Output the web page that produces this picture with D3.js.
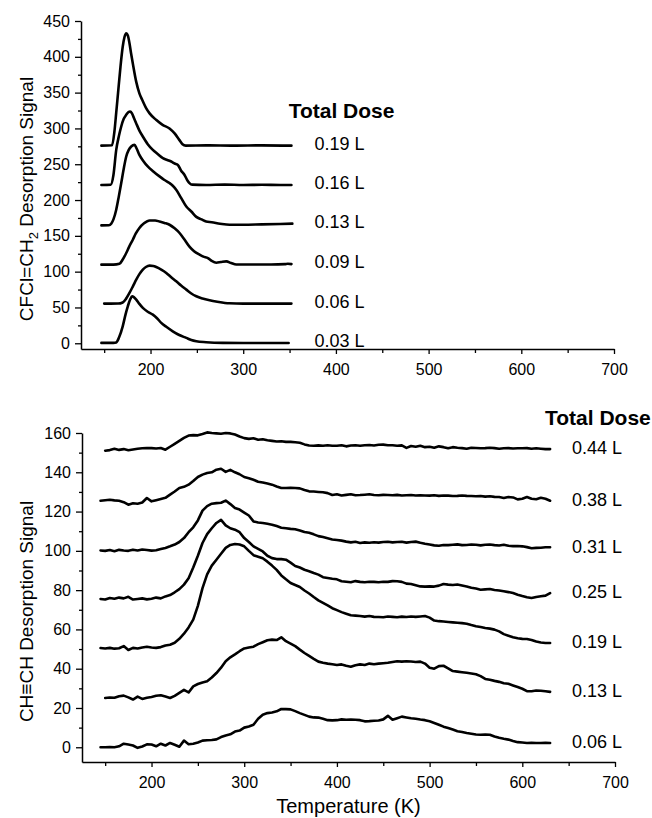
<!DOCTYPE html>
<html>
<head>
<meta charset="utf-8">
<script src="https://cdn.jsdelivr.net/npm/d3@7"></script>
<style>
  html, body { margin: 0; padding: 0; background: #fff; }
  svg { display: block; font-family: Arial, "Liberation Sans", Helvetica, sans-serif; }
</style>
</head>
<body>
<svg id="chart" width="652" height="818"></svg>
<script>
// ---------- Upper panel: CFCl=CH2 desorption traces, [temperature (K), signal] ----------
const cfclDoses = ["0.19 L", "0.16 L", "0.13 L", "0.09 L", "0.06 L", "0.03 L"];

const cfcl019 = [[147,276],[158.5,276.5],[161,295],[163,322],[165,350],[167.5,385],[170,414],[172,428],
  [173.8,433],[175.5,430],[177.3,419],[179,405],[181,390],[184.6,365],[188,349],[191,340],[195.4,328],
  [199,321],[206,312],[213,305],[220.5,300],[226,293],[231,284],[234.5,278],[238,276],[260,276.3],
  [290,276],[320,276.4],[352,276]];
const cfcl016 = [[147,221],[157,221.3],[160,235],[163,270],[166,290],[168.4,302.7],[171,313],[173.8,319],
  [176,322.5],[178,323.6],[180,321],[182,315],[184.6,307],[188,297],[191.7,288.7],[197,278],[202.5,270],
  [208,264],[213.3,258.5],[218,256],[222.3,253.8],[226,251],[229.5,249],[233,241],[236.7,235],[240,227],
  [242,223.7],[245,221.5],[260,221],[280,221.5],[300,221],[320,221.3],[340,221],[352,221]];
const cfcl013 = [[147,164.6],[155,164.8],[157.6,167],[160,173],[163,186.5],[165.5,203],[168.4,223.7],
  [171,243],[173.8,260.8],[176.5,270],[179.2,274.8],[182.7,277],[185,272],[188,263],[192,255],[197,246.9],
  [203,240],[209.7,233],[215,228],[220.5,223.7],[224,220],[227.7,214.4],[233,203],[238.6,191],[244,184],
  [249.4,176.5],[255,173],[260,170],[266,169],[275,167],[285.3,165.5],[300,165.5],[320,166],[340,166.5],[353,167]];
const cfcl009 = [[147,109.8],[160,109.8],[166.5,111],[170,117],[173.8,126],[177,135],[180.9,144.6],[184,153],
  [188,161],[193,167.5],[199,171.5],[205,171.5],[209.7,170],[215,168],[220.5,165.5],[226,160.5],[231.3,154],
  [236,146],[242,135],[247,128.5],[252.9,123.7],[257,121],[261.9,119],[266,115],[271,112.5],[276,113.5],
  [281.8,114.4],[287,112],[292.5,110],[310,110],[330,110],[345,110.5],[348,111],[352,110.5]];
const cfcl006 = [[150,55.4],[165,55.5],[170,57],[173.5,62],[177.3,70.3],[181,79.5],[184.6,88.8],[188,96.5],
  [191.7,102.8],[195,106.5],[199,108.4],[203,108],[206.2,106.5],[212,102.5],[217,98.2],[222,92.5],
  [227.7,86.5],[233,80.5],[238.6,74.9],[244,69.5],[249.4,65.6],[256,62.5],[263.7,60],[272,58],[285,55.8],
  [300,55.4],[330,55.4],[352,55.4]];
const cfcl003 = [[147,0.5],[160,0.6],[163,1.2],[166,8],[170,23.7],[173,40],[175.5,51.6],[178,61],[180.2,65.6],
  [182,64.5],[184.6,61],[188,55],[191.7,49.4],[197,44],[202.5,40],[207,35],[211.6,28.4],[217,23],[224,16.7],
  [231,11.5],[238.6,7.5],[244,4.5],[249.4,2.8],[260,1.5],[278,0.5],[300,0.3],[330,0.3],[349,0.3]];

const cfclTraces = [cfcl019, cfcl016, cfcl013, cfcl009, cfcl006, cfcl003];
const cfclYMajor = [0, 50, 100, 150, 200, 250, 300, 350, 400, 450];
const cfclYMinor = [25, 75, 125, 175, 225, 275, 325, 375, 425];

// ---------- Lower panel: CH≡CH desorption traces, sampled every 5 K ----------
const chchDoses = ["0.44 L", "0.38 L", "0.31 L", "0.25 L", "0.19 L", "0.13 L", "0.06 L"];
const chchStartK = [150, 145, 145, 145, 145, 150, 145];
const chchStepK = 5;

const chch044 = [
  151, 151.3, 152, 151.4, 151.8, 151.2, 151.6, 152, 152.2, 152.4,
  152.3, 152.1, 152.4, 151.5, 153, 154.5, 156, 157.5, 158.7, 158.9,
  158.8, 159.5, 160.3, 160, 159.8, 159.6, 160, 159.8, 159.2, 158.2,
  157.4, 157, 157.3, 156.6, 156.8, 156.3, 156, 155.7, 155.8, 155.5,
  155.5, 155.3, 155, 154.2, 153.6, 153.5, 153.7, 153.5, 153.8, 153.5,
  153.5, 153.8, 153.2, 153.6, 153.8, 153.5, 153.8, 153.9, 153.6, 154,
  154.1, 153.8, 153.8, 153.5, 153.7, 152.4, 153.4, 153, 153.5, 152.8,
  153, 152.5, 153.2, 152.8, 152.2, 152.8, 152.5, 152.3, 152, 152.5,
  152.4, 152.2, 152.3, 152.5, 152.3, 152, 152.2, 152.3, 152.1, 152.2,
  152.2, 152.3, 152, 152.2, 152, 151.8, 151.8];
const chch038 = [
  125.5, 125.8, 126, 125.7, 125.5, 124.8, 123.5, 124.2, 124, 124.6,
  126.9, 125.2, 125.8, 126.4, 127, 128.6, 130.2, 132, 132.6, 133.7,
  135.6, 137.6, 138.8, 139.6, 140, 141.3, 141.8, 140.2, 141.2, 140,
  139, 137.6, 137, 136.2, 135.2, 134.8, 134.3, 133.7, 132.8, 132,
  132, 132.1, 132, 131.8, 131, 130.3, 130.2, 130, 129.8, 129.4,
  128.4, 128.8, 128.2, 128.5, 128.8, 128.3, 128.4, 128.6, 128.8, 128.4,
  128.3, 128.5, 128.4, 128.3, 128.5, 128.2, 128.3, 128.4, 128.2, 128.3,
  128.2, 128.1, 128.3, 128, 128.2, 128.1, 127.9, 128, 128.2, 128,
  127.9, 127.8, 127.9, 127.6, 127.8, 127.5, 127.4, 126.9, 127.4, 127.2,
  126.2, 126.5, 127.4, 126.5, 126.3, 127, 126.5, 125.5];
const chch031 = [
  100.2, 100, 100.4, 99.8, 100.5, 100.2, 100, 100.6, 100.2, 100.7,
  100.4, 100.1, 100.3, 100.9, 101.5, 102.3, 103.2, 104.5, 106.5, 109.5,
  112, 115.5, 120.5, 122.8, 124, 124.3, 124.5, 125.6, 123.8, 121.8,
  121, 119.5, 118, 115, 114.4, 114.2, 113.8, 113.3, 112.6, 111.8,
  111.5, 111.2, 111, 110.4, 109.6, 109.2, 108.4, 107.5, 107, 106.4,
  105.8, 105.5, 105.2, 104.7, 104.3, 104.6, 104, 104.3, 104.1, 104.4,
  104.2, 104.5, 104.6, 104.3, 104.5, 104.6, 104.2, 104.5, 104.7, 104.1,
  103.6, 103.2, 102.8, 102.6, 103, 102.9, 103.1, 103.3, 102.9, 103,
  103.2, 103.1, 102.8, 103.1, 103.2, 102.9, 102.7, 103.1, 102.6, 102.4,
  102.5, 102.3, 101.9, 101.3, 101.5, 101.6, 101.8, 101.8];
const chch025 = [
  75.5, 75.2, 76, 75.6, 76.2, 75.8, 76.6, 75.2, 75.5, 75.8,
  75.3, 75.6, 76.2, 75.8, 76.8, 77.5, 78.9, 80.5, 82.8, 86,
  91.5, 97.5, 104, 108.5, 111.5, 114.2, 115.8, 113, 111.5, 110.8,
  109.5, 106.5, 104.5, 102.3, 101, 99.7, 97.5, 96.3, 95.8, 95.8,
  95.5, 94, 92.3, 91.5, 90.4, 89.6, 88.7, 87.9, 86.6, 86.2,
  85.8, 85.5, 84.5, 84.3, 84, 84.6, 84.2, 84, 84.3, 84.2,
  84, 84.3, 84.2, 84.6, 84.5, 84.2, 83.3, 83.1, 82.5, 81.9,
  81.8, 81.9, 81.8, 82.3, 83.1, 82.8, 82.6, 82.9, 82.4, 81.9,
  81.2, 80.8, 80.2, 80.4, 80.6, 80.1, 79.8, 79.4, 79, 78.5,
  77.7, 77, 76.4, 76, 76.5, 76.9, 77.2, 78.5];
const chch019 = [
  50.5, 50.3, 50.6, 50.2, 50.4, 51.5, 49.5, 50.6, 50.3, 50.8,
  51.2, 50.8, 50.6, 51, 51.8, 52.2, 53.2, 55.2, 57.8, 61,
  65, 72, 81, 88, 92.5, 95.5, 98.5, 101.5, 103, 103.5,
  103.2, 102.3, 100, 97.8, 97, 96.2, 94.5, 92.5, 90.3, 87.5,
  85.5, 83.6, 82.6, 81.6, 79.8, 78.3, 76.5, 74.8, 73.5, 72.2,
  70.8, 69.8, 68.8, 68, 67.2, 67, 66.8, 66.5, 66.8, 66.4,
  66.3, 66.2, 66.6, 66.4, 66.2, 66.5, 66.3, 66.6, 66.4, 66.6,
  66.8, 66, 64.5, 64.2, 64, 63.8, 63.6, 63.4, 63.2, 62.9,
  62.2, 61.6, 61.2, 60.7, 60.4, 59.9, 59, 57.6, 56.8, 56,
  55.5, 55.2, 55.1, 54.6, 53.8, 53.3, 53.1, 53.1];
const chch013 = [
  25.1, 25.3, 25.2, 26, 26.3, 25.4, 24.3, 25.8, 24.6, 25.2,
  25.6, 26.2, 26.5, 25.8, 25.1, 26.2, 27.7, 29.2, 27.9, 31,
  32.2, 33, 33.6, 35.5, 37.8, 40.5, 43.8, 45.8, 47.3, 48.9,
  50.3, 50.8, 51.2, 52.5, 53.5, 54.5, 54.8, 54.6, 56, 54,
  52.8, 51.5, 49.7, 48, 46.5, 45, 43.6, 43, 42.6, 42.3,
  41.9, 42.2, 41.5, 41, 41.8, 42.2, 41.9, 42.6, 42.3, 42.6,
  42.8, 43, 43.4, 43.8, 43.6, 43.8, 43.7, 43.4, 43.6, 42.6,
  40.5, 40, 41.3, 41.5, 40.2, 38.8, 38.5, 38.2, 37.9, 37.6,
  37.2, 36.2, 34.8, 34.4, 33.8, 33.3, 32.6, 32.3, 31.5, 30.7,
  29.8, 28.6, 28.5, 28.9, 28.8, 28.5, 28.2];
const chch006 = [
  0, 0, 0.1, 0, 0.5, 1.8, 1.4, 0.9, -0.3, 0.4,
  1.5, 1.4, 0.5, 1.8, 0.9, 2.2, 1.3, 0.3, 3.4, 1.5,
  1.8, 2.4, 3.4, 3.6, 3.7, 4, 5.2, 6, 6.6, 8,
  8.5, 10, 10.6, 11.5, 14.5, 16.6, 17.4, 17.7, 18.3, 19.5,
  19.4, 19.3, 18.4, 17.4, 16.5, 15.6, 15.2, 15.1, 14.5, 13.8,
  13.7, 13.8, 14.2, 14, 14.1, 14, 13.8, 13.2, 13.3, 13.5,
  13.6, 14.2, 16, 14, 14.8, 15.6, 15.2, 14.8, 14.5, 14.1,
  13.8, 13.2, 12.4, 11.5, 10.5, 9.8, 9, 8.2, 7.8, 7.3,
  6.9, 6.5, 6.4, 6.5, 6.4, 5.5, 4.8, 4.3, 3.9, 3.2,
  2.6, 2.4, 2.2, 2.3, 2.2, 2.2, 2.3, 2.2];

const chchTraces = [chch044, chch038, chch031, chch025, chch019, chch013, chch006];
const chchYMajor = [0, 20, 40, 60, 80, 100, 120, 140, 160];
const chchYMinor = [10, 30, 50, 70, 90, 110, 130, 150];

// Shared temperature axis
const tempMajor = [200, 300, 400, 500, 600, 700];
const tempMinor = [150, 250, 350, 450, 550, 650];
const tempDomain = [125, 700];

// ---------- drawing ----------
const svg = d3.select("#chart");
svg.append("rect").attr("width", 652).attr("height", 818).attr("fill", "#fff");

function drawAxes(g, x, y, yMajor, yMinor) {
  const xAxis = g.append("g").attr("transform", `translate(0,${y.range()[0]})`)
    .call(d3.axisBottom(x).tickValues(tempMajor).tickSize(5).tickSizeOuter(0)
      .tickPadding(10).tickFormat(d3.format("d")));
  g.append("g").attr("transform", `translate(0,${y.range()[0]})`)
    .call(d3.axisBottom(x).tickValues(tempMinor).tickSize(4).tickFormat(""))
    .call(s => s.select(".domain").remove());

  const yAxis = g.append("g").attr("transform", `translate(${x.range()[0]},0)`)
    .call(d3.axisLeft(y).tickValues(yMajor).tickSize(6).tickSizeOuter(0)
      .tickPadding(5).tickFormat(d3.format("d")));
  g.append("g").attr("transform", `translate(${x.range()[0]},0)`)
    .call(d3.axisLeft(y).tickValues(yMinor).tickSize(3).tickFormat(""))
    .call(s => s.select(".domain").remove());

  g.selectAll(".domain").attr("stroke", "#000").attr("stroke-width", 1.5);
  g.selectAll(".tick line").attr("stroke", "#000").attr("stroke-width", 1.3);
  g.selectAll(".tick text").attr("font-size", 16).attr("fill", "#000")
    .attr("font-family", "Arial, 'Liberation Sans', sans-serif");
}

// Upper panel
const xTop = d3.scaleLinear().domain(tempDomain).range([81, 614]);
const yTop = d3.scaleLinear().domain([-8, 450]).range([349, 21]);
const gTop = svg.append("g");
drawAxes(gTop, xTop, yTop, cfclYMajor, cfclYMinor);

const lineTop = d3.line().x(d => xTop(d[0])).y(d => yTop(d[1])).curve(d3.curveMonotoneX);
gTop.selectAll("path.trace").data(cfclTraces).join("path")
  .attr("class", "trace")
  .attr("d", lineTop)
  .attr("fill", "none").attr("stroke", "#000").attr("stroke-width", 2.6)
  .attr("stroke-linejoin", "round").attr("stroke-linecap", "round");

gTop.selectAll("text.dose").data(cfclTraces).join("text")
  .attr("class", "dose")
  .attr("x", xTop(377))
  .attr("y", d => yTop(d[d.length - 1][1]) - 2)
  .attr("dy", "0.35em")
  .attr("font-size", 18).attr("fill", "#000")
  .text((d, i) => cfclDoses[i]);

gTop.append("text")
  .attr("x", xTop(349)).attr("y", yTop(314))
  .attr("font-size", 21).attr("font-weight", "bold").attr("fill", "#000")
  .text("Total Dose");

const titleTop = svg.append("text")
  .attr("transform", "translate(33,199) rotate(-90)")
  .attr("text-anchor", "middle").attr("font-size", 19).attr("fill", "#000");
titleTop.append("tspan").text("CFCl=CH");
titleTop.append("tspan").attr("font-size", 13).attr("dy", 5).text("2");
titleTop.append("tspan").attr("dy", -5).text(" Desorption Signal");

// Lower panel
const xBot = d3.scaleLinear().domain(tempDomain).range([82, 615]);
const yBot = d3.scaleLinear().domain([-7.5, 160]).range([762, 433]);
const gBot = svg.append("g");
drawAxes(gBot, xBot, yBot, chchYMajor, chchYMinor);

const lineBot = d3.line()
  .x(d => xBot(d.t)).y(d => yBot(d.v)).curve(d3.curveLinear);
const chchPoints = chchTraces.map((vals, i) =>
  vals.map((v, j) => ({ t: chchStartK[i] + j * chchStepK, v })));

gBot.selectAll("path.trace").data(chchPoints).join("path")
  .attr("class", "trace")
  .attr("d", lineBot)
  .attr("fill", "none").attr("stroke", "#000").attr("stroke-width", 2.6)
  .attr("stroke-linejoin", "round").attr("stroke-linecap", "round");

gBot.selectAll("text.dose").data(chchPoints).join("text")
  .attr("class", "dose")
  .attr("x", xBot(653.6))
  .attr("y", d => yBot(d[d.length - 1].v) - 1)
  .attr("dy", "0.35em")
  .attr("font-size", 18).attr("fill", "#000")
  .text((d, i) => chchDoses[i]);

gBot.append("text")
  .attr("x", xBot(624.5)).attr("y", yBot(164.2))
  .attr("font-size", 21).attr("font-weight", "bold").attr("fill", "#000")
  .text("Total Dose");

svg.append("text")
  .attr("transform", "translate(33,611.5) rotate(-90)")
  .attr("text-anchor", "middle").attr("font-size", 19).attr("fill", "#000")
  .text("CH\u2261CH Desorption Signal");

svg.append("text")
  .attr("x", (xBot.range()[0] + xBot.range()[1]) / 2).attr("y", 813)
  .attr("text-anchor", "middle").attr("font-size", 20).attr("fill", "#000")
  .text("Temperature (K)");
</script>
</body>
</html>
